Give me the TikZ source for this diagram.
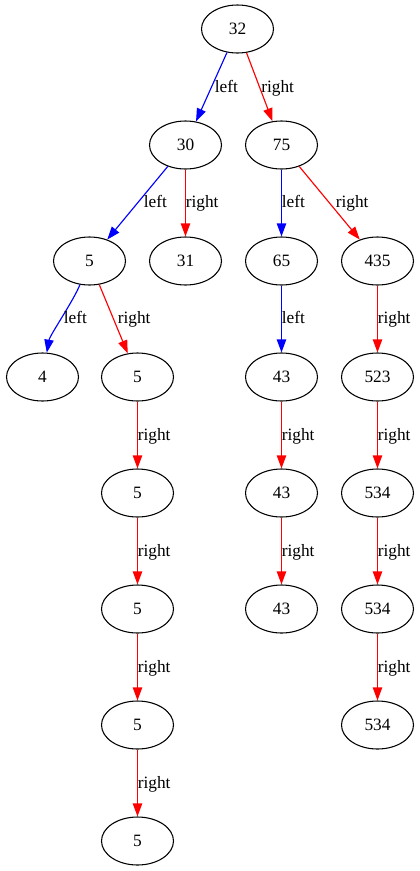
\documentclass[tikz,border=0pt]{standalone}
\usepackage{fontspec}
\setmainfont{Liberation Serif}
\usepackage{tikz}
\usetikzlibrary{shapes.geometric, arrows.meta}
\definecolor{lblue}{RGB}{0,0,255}
\definecolor{lred}{RGB}{255,0,0}
\tikzset{
  treenode/.style={ellipse, draw=black, line width=0.8pt,
    minimum width=54pt, minimum height=36pt, inner sep=0pt,
    font=\fontsize{13}{15}\selectfont},
  leftedge/.style={-{Triangle[length=9.75pt, width=7pt]}, line width=0.85pt, color=lblue},
  rightedge/.style={-{Triangle[length=9.75pt, width=7pt]}, line width=0.85pt, color=lred},
  elabel/.style={anchor=base west, inner sep=0pt,
    font=\fontsize{13}{15}\selectfont}
}

\begin{document}
\begin{tikzpicture}[x=0.75pt, y=0.75pt]
  \useasboundingbox (0,0) rectangle (419,-871);

  \begin{scope}[xshift=0.375pt]
  % Tree nodes
  \node[treenode] (n32) at (237,-29) {32};
  \node[treenode] (n30) at (185,-145) {30};
  \node[treenode] (n75) at (281,-145) {75};
  \node[treenode] (n5a) at (89,-261) {5};
  \node[treenode] (n31) at (185,-261) {31};
  \node[treenode] (n65) at (281,-261) {65};
  \node[treenode] (n435) at (377,-261) {435};
  \node[treenode] (n4) at (42,-377) {4};
  \node[treenode] (n5b) at (137,-377) {5};
  \node[treenode] (n43a) at (281,-377) {43};
  \node[treenode] (n523) at (377,-377) {523};
  \node[treenode] (n5c) at (137,-493) {5};
  \node[treenode] (n43b) at (281,-493) {43};
  \node[treenode] (n534a) at (377,-493) {534};
  \node[treenode] (n5d) at (137,-609) {5};
  \node[treenode] (n43c) at (281,-609) {43};
  \node[treenode] (n534b) at (377,-609) {534};
  \node[treenode] (n5e) at (137,-725) {5};
  \node[treenode] (n534c) at (377,-725) {534};
  \node[treenode] (n5f) at (137,-841) {5};

  % Left edges
  \draw[leftedge] (n32) -- (n30);
  \draw[leftedge] (n30) -- (n5a);
  \draw[leftedge] (n75) -- (n65);
  \draw[leftedge] (n5a) to[out=-112, in=80, looseness=0.6] (n4);
  \draw[leftedge] (n65) -- (n43a);

  % Right edges
  \draw[rightedge] (n32) -- (n75);
  \draw[rightedge] (n30) -- (n31);
  \draw[rightedge] (n75) -- (n435);
  \draw[rightedge] (n5a) -- (n5b);
  \draw[rightedge] (n435) -- (n523);
  \draw[rightedge] (n5b) -- (n5c);
  \draw[rightedge] (n5c) -- (n5d);
  \draw[rightedge] (n5d) -- (n5e);
  \draw[rightedge] (n5e) -- (n5f);
  \draw[rightedge] (n43a) -- (n43b);
  \draw[rightedge] (n43b) -- (n43c);
  \draw[rightedge] (n523) -- (n534a);
  \draw[rightedge] (n534a) -- (n534b);
  \draw[rightedge] (n534b) -- (n534c);

  % Edge labels
  \node[elabel] (l1) at (214,-92) {left};
  \node[elabel] (r1) at (260.5,-92) {right};
  \node[elabel] (l2) at (143,-207) {left};
  \node[elabel] (r2) at (185,-207) {right};
  \node[elabel] (l3) at (281,-207) {left};
  \node[elabel] (r3) at (335,-207) {right};
  \node[elabel] (l4) at (63,-323) {left};
  \node[elabel] (r4) at (117,-323) {right};
  \node[elabel] (l5) at (281,-323) {left};
  \node[elabel] (r5) at (377,-323) {right};
  \node[elabel] (r6) at (137,-440) {right};
  \node[elabel] (r7) at (137,-556) {right};
  \node[elabel] (r8) at (137,-672) {right};
  \node[elabel] (r9) at (137,-788) {right};
  \node[elabel] (r10) at (281,-440) {right};
  \node[elabel] (r11) at (281,-556) {right};
  \node[elabel] (r12) at (377,-440) {right};
  \node[elabel] (r13) at (377,-556) {right};
  \node[elabel] (r14) at (377,-672) {right};
  \end{scope}
\end{tikzpicture}
\end{document}
